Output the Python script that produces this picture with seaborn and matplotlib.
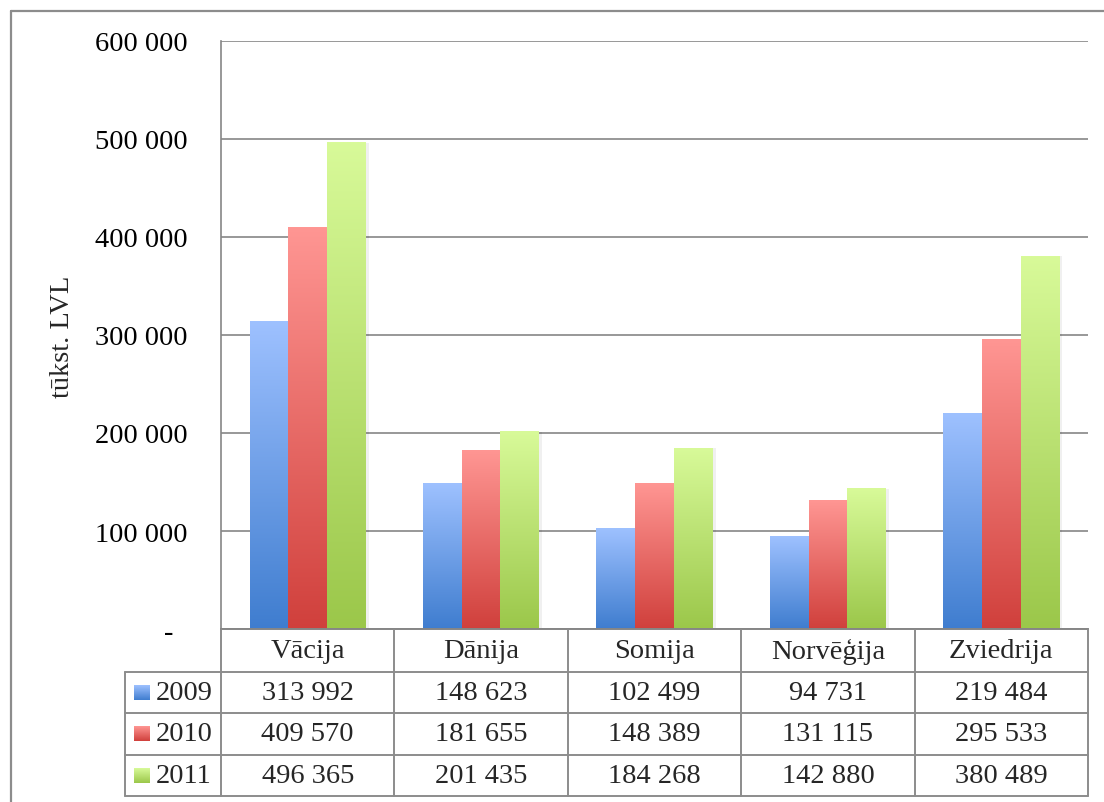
import numpy as np
import pandas as pd
import matplotlib
matplotlib.use("Agg")
import matplotlib.pyplot as plt
import matplotlib.colors as mcolors
from matplotlib.lines import Line2D
import seaborn as sns

countries = ["Vācija", "Dānija", "Somija", "Norvēģija", "Zviedrija"]
years = ["2009", "2010", "2011"]
v2009 = [313992, 148623, 102499, 94731, 219484]
v2010 = [409570, 181655, 148389, 131115, 295533]
v2011 = [496365, 201435, 184268, 142880, 380489]
y_ticks = [0, 100000, 200000, 300000, 400000, 500000, 600000]
y_label = "tūkst. LVL"

dark = ["#3F7DCF", "#D0403C", "#9BC74A"]
light = ["#9EC1FF", "#FF9693", "#D8FA99"]

sns.set_theme(style="white")
plt.rcParams["font.family"] = ["Liberation Serif", "DejaVu Serif"]
FS = 20.5
GRID = "#868686"

df = pd.DataFrame({
    "country": countries * 3,
    "year": [years[0]] * 5 + [years[1]] * 5 + [years[2]] * 5,
    "value": v2009 + v2010 + v2011,
})

W, H = 1104, 803
fig = plt.figure(figsize=(W / 100, H / 100), dpi=100)
fig.patch.set_facecolor("white")

L, R, T, B = 221, 1088, 42, 630
ax = fig.add_axes([L / W, 1 - B / H, (R - L) / W, (B - T) / H])
sns.barplot(data=df, x="country", y="value", hue="year", palette=dark,
            saturation=1, width=0.67, legend=False, ax=ax, zorder=2)


def grad_img(top, bot, n=256):
    t = np.linspace(0, 1, n)[:, None, None]
    a = np.array(mcolors.to_rgb(top))[None, None, :]
    b = np.array(mcolors.to_rgb(bot))[None, None, :]
    return a * (1 - t) + b * t


dark_rgb = [np.array(mcolors.to_rgb(c)) for c in dark]
for p in list(ax.patches):
    fc = np.array(p.get_facecolor()[:3])
    k = int(np.argmin([np.abs(fc - d).sum() for d in dark_rgb]))
    x0, w, h = p.get_x(), p.get_width(), p.get_height()
    # subtle shadow
    ax.add_patch(plt.Rectangle((x0 + w * 0.08, 0), w, h * 1.0, facecolor="#000000",
                               alpha=0.06, edgecolor="none", zorder=1.5))
    im = ax.imshow(grad_img(light[k], dark[k]), extent=(x0, x0 + w, 0, h),
                   origin="upper", aspect="auto", zorder=2.5, interpolation="bilinear")
    p.set_facecolor("none")
    p.set_edgecolor("none")

ax.set_xlim(-0.5, 4.5)
ax.set_ylim(0, 600000)
ax.set_yticks(y_ticks)
ax.set_yticklabels(["-  " if v == 0 else f"{v:,}".replace(",", " ") for v in y_ticks],
                   fontsize=FS)
ax.set_xticks([])
ax.set_xlabel("")
ax.set_ylabel("")
ax.tick_params(axis="y", length=0, pad=24, colors="black")
ax.yaxis.grid(True, color=GRID, lw=1.2)
ax.set_axisbelow(True)
for s in ["top", "right"]:
    ax.spines[s].set_visible(False)
ax.spines["left"].set_color(GRID)
ax.spines["left"].set_linewidth(1.2)
ax.spines["bottom"].set_color(GRID)
ax.spines["bottom"].set_linewidth(1.4)

fig.text(63 / W, 1 - 337 / H, y_label, rotation=90, ha="center", va="center", fontsize=FS)

# data table
TL, TT, TB = 125, 631, 797
unit = (R - L) / 5.0
xleft = -0.5 - (L - TL) / unit
tab = fig.add_axes([TL / W, 1 - TB / H, (R - TL) / W, (TB - TT) / H])
tab.set_xlim(xleft, 4.5)
tab.set_ylim(4, 0)
tab.axis("off")
TC = "#8C8C8C"
lw = 1.4
for i in range(6):
    xe = -0.5 + i
    tab.add_line(Line2D([xe, xe], [0, 4], color=TC, lw=lw, clip_on=False))
tab.add_line(Line2D([xleft, xleft], [1, 4], color=TC, lw=lw, clip_on=False))
for r in range(1, 5):
    tab.add_line(Line2D([xleft, 4.5], [r, r], color=TC, lw=lw, clip_on=False))
for i, c in enumerate(countries):
    tab.text(i, 0.5, c, ha="center", va="center", fontsize=FS)
series = [v2009, v2010, v2011]
kw = 16 / unit
for r, (yr, vals) in enumerate(zip(years, series)):
    yc = r + 1.5
    for i, v in enumerate(vals):
        tab.text(i, yc, f"{v:,}".replace(",", " "), ha="center", va="center", fontsize=FS)
    kx = xleft + 9 / unit
    tab.imshow(grad_img(light[r], dark[r]), extent=(kx, kx + kw, yc + 0.18, yc - 0.18),
               origin="upper", aspect="auto", interpolation="bilinear")
    tab.text(xleft + 31 / unit, yc, yr, ha="left", va="center", fontsize=FS)
tab.set_xlim(xleft, 4.5)
tab.set_ylim(4, 0)

# outer chart border
fig.add_artist(Line2D([11 / W, 1.0], [1 - 12 / H, 1 - 12 / H], color=TC, lw=1.6,
                      transform=fig.transFigure))
fig.add_artist(Line2D([11 / W, 11 / W], [1 - 12 / H, 0.0], color=TC, lw=1.6,
                      transform=fig.transFigure))

fig.savefig("out.png", dpi=100)
